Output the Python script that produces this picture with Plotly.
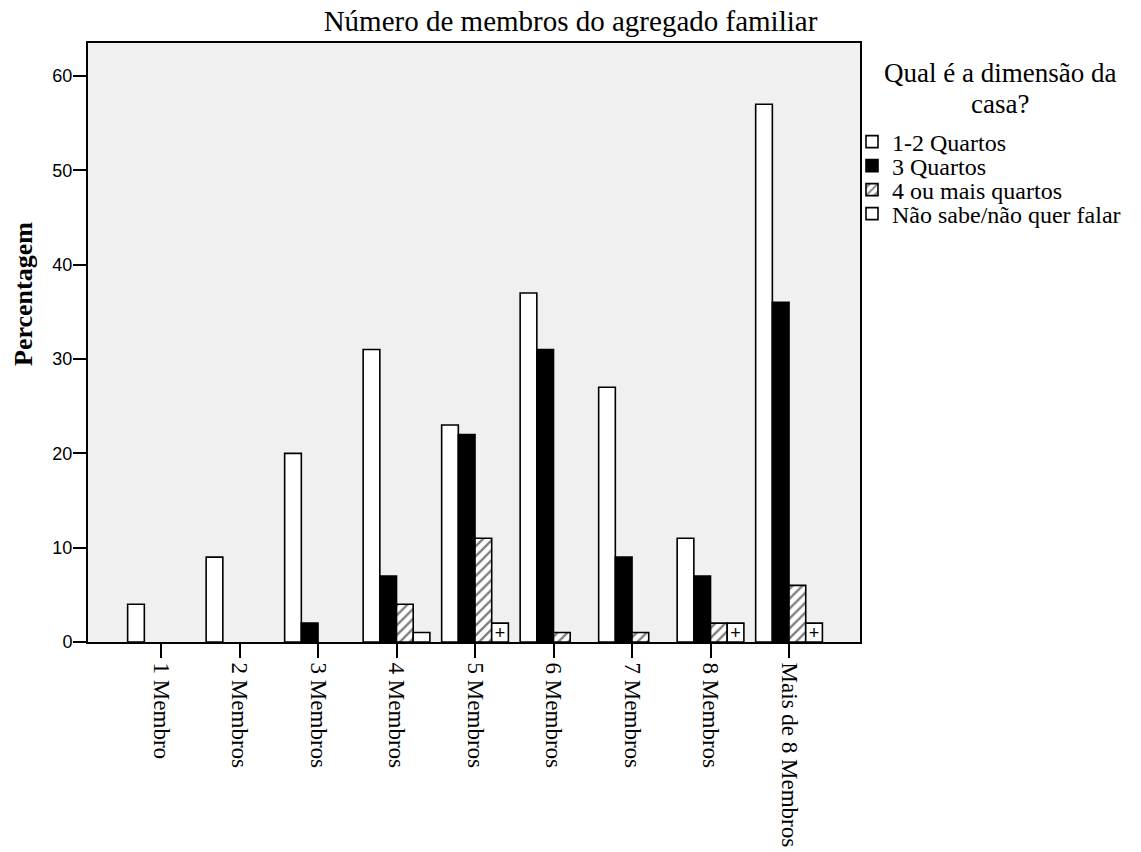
import plotly.graph_objects as go

categories = ["1 Membro", "2 Membros", "3 Membros", "4 Membros", "5 Membros",
              "6 Membros", "7 Membros", "8 Membros", "Mais de 8 Membros"]
series_names = ["1-2 Quartos", "3 Quartos", "4 ou mais quartos", "Não sabe/não quer falar"]
v_1_2_quartos = [4, 9, 20, 31, 23, 37, 27, 11, 57]
v_3_quartos = [None, None, 2, 7, 22, 31, 9, 7, 36]
v_4_mais = [None, None, None, 4, 11, 1, 1, 2, 6]
v_nao_sabe = [None, None, None, 1, 2, None, None, 2, 2]
y_ticks = [0, 10, 20, 30, 40, 50, 60]

SERIF = "Liberation Serif, Times New Roman, serif"
SANS = "Liberation Sans, Arial, sans-serif"

W, H = 1141, 852
L, R, T, B = 88, 860, 43, 642

styles = [
    dict(color="white", pattern=None, text=False),
    dict(color="black", pattern=None, text=False),
    dict(color="white", pattern=dict(shape="/", fgcolor="black", bgcolor="white", size=7, solidity=0.33), text=False),
    dict(color="white", pattern=None, text=True),
]
values = [v_1_2_quartos, v_3_quartos, v_4_mais, v_nao_sabe]
legend_ids = ["legend", "legend2", "legend3", "legend4"]
legend_ypx = [142, 166, 190, 214]


def px_x(p):
    return (p - L) / (R - L)


def px_y(p):
    return (B - p) / (B - T)


fig = go.Figure()
for name, vals, st, lid in zip(series_names, values, styles, legend_ids):
    marker = dict(color=st["color"], line=dict(color="black", width=1.6))
    if st["pattern"] is not None:
        marker["pattern"] = st["pattern"]
    kw = {}
    if st["text"]:
        kw = dict(text=["+" if (v is not None and v >= 2) else "" for v in vals],
                  texttemplate="%{text}", textposition="inside",
                  insidetextanchor="middle", textangle=0, constraintext="none",
                  textfont=dict(family=SANS, size=18, color="black"))
    fig.add_trace(go.Bar(
        x=list(range(len(categories))), y=vals, name=name, marker=marker,
        legend=lid, showlegend=True, **kw,
    ))

layout = dict(
    width=W, height=H,
    margin=dict(l=L, r=W - R, t=T, b=H - B, autoexpand=False),
    paper_bgcolor="white",
    plot_bgcolor="#F0F0F0",
    barmode="group",
    bargap=0.15,
    bargroupgap=0,
    title=dict(text="Número de membros do agregado familiar",
               x=0.5, xref="container", xanchor="center",
               y=1 - 21 / H, yref="container", yanchor="middle",
               font=dict(family=SERIF, size=29, color="black")),
    xaxis=dict(
        tickmode="array", tickvals=list(range(len(categories))), ticktext=categories,
        range=[-0.93, 8.904], tickangle=90, automargin=False,
        showline=True, linecolor="black", linewidth=2, mirror=True,
        ticks="outside", ticklen=14, tickwidth=2, tickcolor="black",
        showgrid=False, zeroline=False,
        tickfont=dict(family=SERIF, size=23, color="black"),
    ),
    yaxis=dict(
        tickmode="array", tickvals=y_ticks, automargin=False,
        range=[0, 63.5],
        showline=True, linecolor="black", linewidth=2, mirror=True,
        ticks="outside", ticklen=13, tickwidth=2, tickcolor="black",
        ticklabelstandoff=-3,
        showgrid=False, zeroline=False,
        tickfont=dict(family=SANS, size=18, color="black"),
    ),
    annotations=[
        dict(text="<b>Percentagem</b>", showarrow=False, textangle=-90,
             xref="paper", yref="paper", x=px_x(23), y=px_y(294),
             xanchor="center", yanchor="middle",
             font=dict(family=SERIF, size=26, color="black")),
        dict(text="Qual é a dimensão da", showarrow=False,
             xref="paper", yref="paper",
             x=px_x(1000), y=px_y(73),
             xanchor="center", yanchor="middle", borderpad=0,
             font=dict(family=SERIF, size=27, color="black")),
        dict(text="casa?", showarrow=False,
             xref="paper", yref="paper",
             x=px_x(1000), y=px_y(104),
             xanchor="center", yanchor="middle", borderpad=0,
             font=dict(family=SERIF, size=27, color="black")),
    ],
)
for lid, ypx in zip(legend_ids, legend_ypx):
    layout[lid] = dict(
        xref="container", yref="container",
        x=852 / W, y=1 - ypx / H, xanchor="left", yanchor="middle",
        bgcolor="rgba(0,0,0,0)", borderwidth=0,
        font=dict(family=SERIF, size=24, color="black"),
        itemwidth=30, tracegroupgap=0,
    )
fig.update_layout(**layout)

fig.write_html(
    "out.html",
    config={"displayModeBar": False},
    post_script="document.body.style.margin='0';document.body.style.overflow='hidden';",
)
